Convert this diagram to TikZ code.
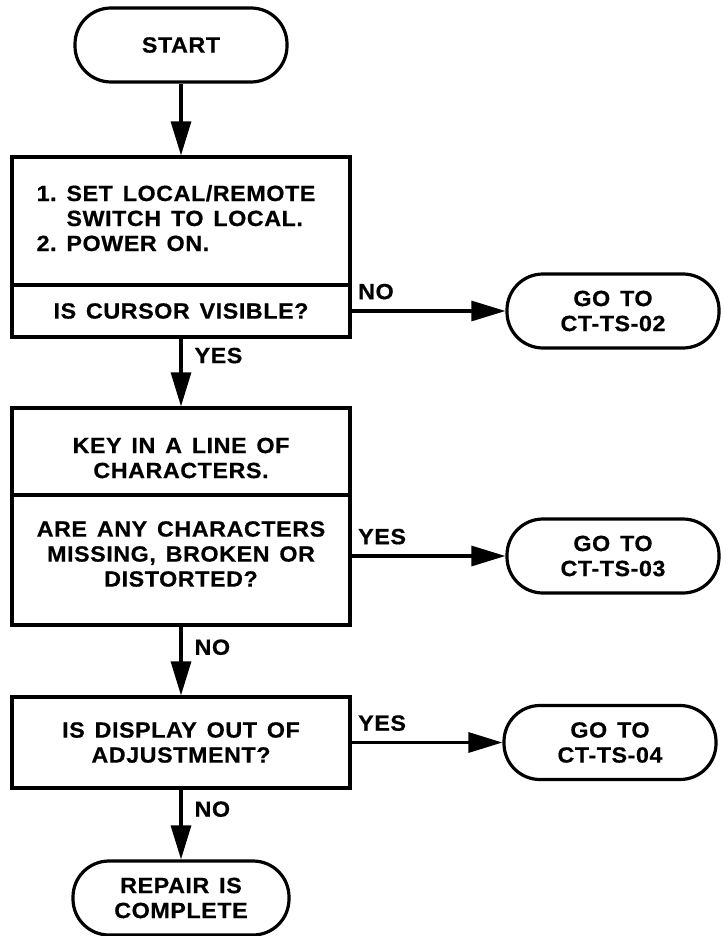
\documentclass[tikz,border=0pt]{standalone}
\usepackage{fontspec}
\setmainfont{Liberation Sans}[LetterSpace=2.5, WordSpace=1.4, FakeStretch=1.06, FakeBold=0.6]
\usetikzlibrary{arrows.meta}

\begin{document}
\begin{tikzpicture}[x=1pt, y=-1pt,
  every node/.style={font=\bfseries\fontsize{22}{25}\selectfont},
  term/.style={draw, line width=3.2pt, rounded corners=36pt,
    minimum width=212pt, minimum height=74pt, align=center, inner sep=0pt},
  block/.style={draw, line width=3.2pt, minimum width=338pt, inner sep=0pt},
  txt/.style={align=center, inner sep=0pt},
  flow/.style={line width=3.2pt, -{Triangle[length=34pt, width=20pt]}},
  vlbl/.style={right, inner sep=2pt, xshift=10pt},
  hlbl/.style={anchor=south west, inner sep=2pt, xshift=3pt, yshift=8pt}]

\useasboundingbox (0,0) rectangle (725,936);

% main column: terminals and process / decision boxes
\node[term] (start) at (181,45) {START};

\node[block, minimum height=128pt] (b1a) at (181,221) {};
\node[txt] (t1a) at (176,221)
  {\begin{tabular}{@{}l@{\ }l@{}}
     1. & SET LOCAL/REMOTE\\
        & SWITCH TO LOCAL.\\
     2. & POWER ON.
   \end{tabular}};
\node[block, minimum height=52pt] (b1b) at (181,311) {};
\node[txt] (t1b) at (b1b) {IS CURSOR VISIBLE?};

\node[block, minimum height=87pt] (b2a) at (181,451.5) {};
\node[txt] (t2a) at (181,458) {KEY IN A LINE OF\\CHARACTERS.};
\node[block, minimum height=130pt] (b2b) at (181,560) {};
\node[txt] (t2b) at (181,554) {ARE ANY CHARACTERS\\MISSING, BROKEN OR\\DISTORTED?};

\node[block, minimum height=91pt] (b3) at (181,742.5) {};
\node[txt] (t3) at (b3) {IS DISPLAY OUT OF\\ADJUSTMENT?};

\node[term, minimum width=216pt] (done) at (181,898) {REPAIR IS\\COMPLETE};

% branch targets
\node[term] (go2) at (613,311) {GO TO\\CT-TS-02};
\node[term] (go3) at (613,556) {GO TO\\CT-TS-03};
\node[term] (go4) at (610,742.5) {GO TO\\CT-TS-04};

% connectors
\draw[flow] (start) -- (b1a);
\draw[flow] (b1b) -- node[vlbl, pos=0.25] {YES} (b2a);
\draw[flow] (b2b) -- node[vlbl, pos=0.3] {NO} (b3);
\draw[flow] (b3) -- node[vlbl, pos=0.28] {NO} (done);

\draw[flow] (b1b) -- node[hlbl, pos=0] {NO} (go2);
\draw[flow] (b2b.east |- go3) -- node[hlbl, pos=0] {YES} (go3);
\draw[flow] (b3) -- node[hlbl, pos=0] {YES} (go4);
\end{tikzpicture}
\end{document}
